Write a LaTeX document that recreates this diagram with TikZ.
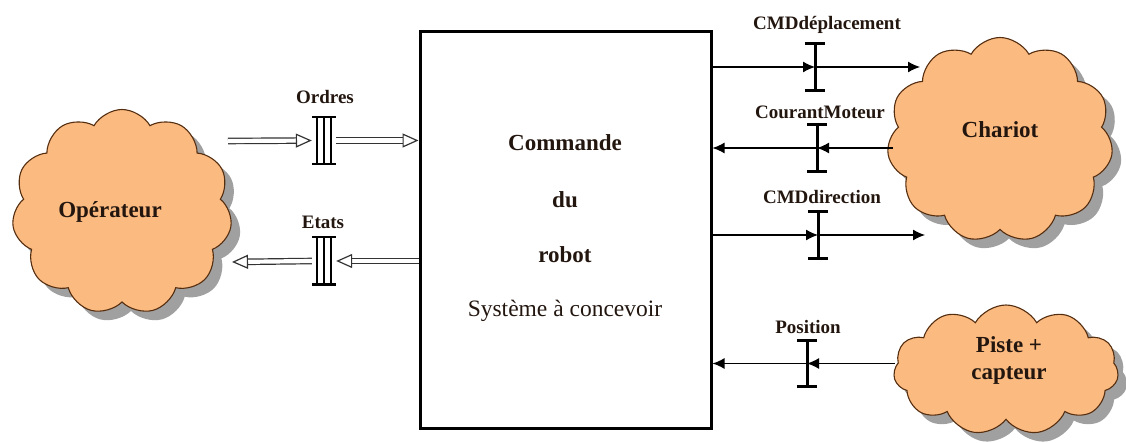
\documentclass[tikz,border=0pt]{standalone}
\usepackage{fontspec}
\setmainfont{Liberation Serif}
\usetikzlibrary{shapes.symbols,shadows,arrows.meta}
\definecolor{puff}{RGB}{251,186,128}
\definecolor{puffline}{RGB}{85,45,15}
\definecolor{ink}{RGB}{35,22,15}
\begin{document}
\begin{tikzpicture}[x=1pt,y=-1pt,
  cloudbox/.style={cloud, cloud puffs=11, cloud puff arc=120, cloud ignores aspect,
    draw=puffline, line width=1.1pt, fill=puff, inner sep=0pt,
    drop shadow={shadow xshift=9pt, shadow yshift=-9pt, fill=black!50, opacity=0.75},
    font=\fontsize{23}{27}\selectfont\bfseries, text=ink, align=center},
  lbl/.style={font=\fontsize{19}{22}\selectfont\bfseries, text=ink, inner sep=0pt},
  title/.style={font=\fontsize{23}{27}\selectfont\bfseries, text=ink, inner sep=0pt},
  sig/.style={line width=1.3pt, -{Latex[length=12pt,width=11pt]}},
  hollow/.style={draw=black!80, double, double distance=4.2pt, line width=1.2pt,
    -{Triangle[open, length=16pt, width=14pt, line width=1.2pt]}},
  barbox/.style={inner sep=0pt, minimum width=20, minimum height=46},
  dbarbox/.style={inner sep=0pt, minimum width=24, minimum height=47},
  barline/.style={line width=3pt},
]
\useasboundingbox (0,0) rectangle (1126,443);

% system box and its texts
\node[draw, line width=3pt, minimum width=291, minimum height=396, inner sep=0pt] (sys) at (565.5,230) {};
\node[title] (t1) at (565,143) {Commande};
\node[title] (t2) at (565,200) {du};
\node[title] (t3) at (565,255) {robot};
\node[font=\fontsize{23.5}{27}\selectfont, text=ink, inner sep=0pt] (t4) at (565,311) {Système à concevoir};

% actors
\node[cloudbox, minimum width=220, minimum height=205] (op) at (122,212) {};
\node[cloudbox, minimum width=226, minimum height=205] (ch) at (1000,140) {};
\node[cloudbox, minimum width=225, minimum height=130] (pc) at (1006,370) {};
\node[font=\fontsize{23}{27}\selectfont\bfseries, text=ink] (opt) at (110,212) {Opérateur};
\node[font=\fontsize{23}{27}\selectfont\bfseries, text=ink] (cht) at (1000,130) {Chariot};
\node[font=\fontsize{23}{27}\selectfont\bfseries, text=ink, align=center] (pct) at (1009,360) {Piste +\\capteur};

% flow separators
\node[dbarbox] (ord) at (324,140.5) {};
\node[dbarbox] (eta) at (324,261) {};
\node[barbox] (cd) at (815,67) {};
\node[barbox] (cm) at (817,148) {};
\node[barbox] (cdir) at (818,235) {};
\node[barbox] (pos) at (807,363.5) {};
\foreach \b in {ord,eta}{
  \draw[line width=2.4pt] (\b.north west) -- (\b.north east) (\b.south west) -- (\b.south east);
  \draw[line width=1.7pt] ([xshift=5pt]\b.north west) rectangle ([xshift=-5pt]\b.south east) (\b.north) -- (\b.south);
}
\foreach \b in {cd,cm,cdir,pos}{
  \draw[barline] (\b.north west) -- (\b.north east) (\b.south west) -- (\b.south east) (\b.north) -- (\b.south);
}

% labels
\node[lbl] (lord) at (325,97) {Ordres};
\node[lbl] (leta) at (323,222) {Etats};
\node[lbl] (lcd) at (827,25) {CMDdéplacement};
\node[lbl] (lcm) at (820,112) {CourantMoteur};
\node[lbl] (lcdir) at (822,197) {CMDdirection};
\node[lbl] (lpos) at (808,327) {Position};

% free ends on the actors
\coordinate (opo) at (228,141);
\coordinate (ope) at (232,262);
\coordinate (chi1) at (920,67);
\coordinate (cho) at (893,148);
\coordinate (chi2) at (925,235);
\coordinate (pco) at (895,363.5);

% operator exchanges
\draw[hollow] (opo) -- (ord.west);
\draw[hollow] (ord.east) -- (sys.west |- ord);
\draw[hollow] (sys.west |- eta) -- (eta.east);
\draw[hollow] (eta.west) -- (ope);

% signals towards and from the devices
\draw[sig] (sys.east |- cd) -- (cd.center);
\draw[sig] (cd.center) -- (chi1);
\draw[sig] (cho) -- (cm.center);
\draw[sig] (cm.center) -- (sys.east |- cm);
\draw[sig] (sys.east |- cdir) -- (cdir.center);
\draw[sig] (cdir.center) -- (chi2);
\draw[sig] (pco) -- (pos.center);
\draw[sig] (pos.center) -- (sys.east |- pos);
\end{tikzpicture}
\end{document}
